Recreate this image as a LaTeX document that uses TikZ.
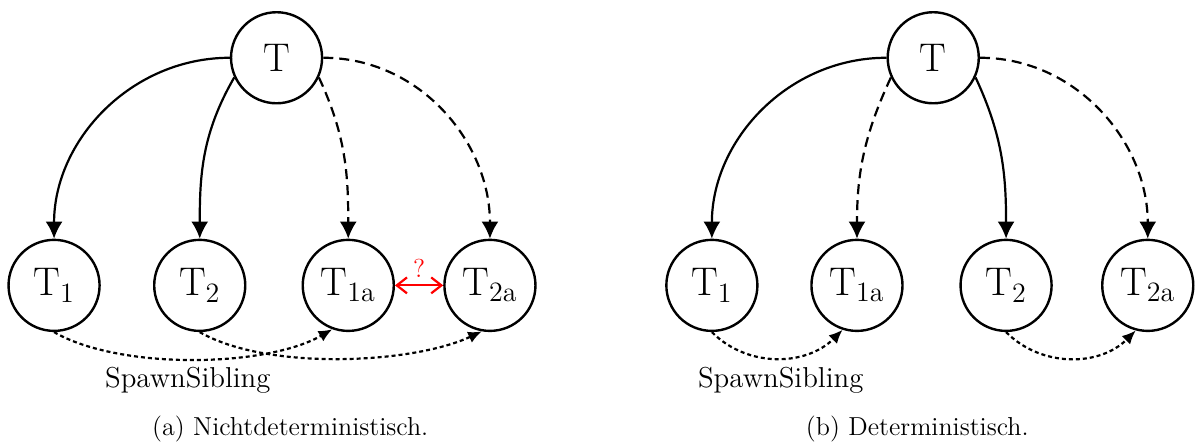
\documentclass[tikz,border=0pt]{standalone}
\usepackage{fontspec}
\usepackage{tikz}
\usetikzlibrary{arrows.meta}
\tikzset{
  task/.style={circle, draw=black, line width=1.2pt, minimum size=1.6cm, inner sep=0pt, font=\fontsize{20}{22}\selectfont},
  spawn/.style={-{Latex[length=3mm,width=3mm]}, line width=1.1pt},
  spawndash/.style={spawn, dash pattern=on 5pt off 3pt},
  sibling/.style={-{Latex[length=2.4mm,width=2.1mm]}, line width=1.1pt, dash pattern=on 2pt off 1.5pt},
  race/.style={{Straight Barb[length=1.8mm,width=2.8mm]}-{Straight Barb[length=1.8mm,width=2.8mm]}, line width=1.1pt, draw=red}
}

\begin{document}
\begin{tikzpicture}[
  lbl/.style={font=\fontsize{14.4}{16}\selectfont},
  subcap/.style={font=\fontsize{13}{15}\selectfont, anchor=base}
]
\useasboundingbox (0,0) rectangle (21.0,7.785);
% (a) nichtdeterministisch
\node[task] (nT) at (4.86,6.77) {T};
\node[task] (nT1) at (0.95,2.77) {T\textsubscript{1}};
\node[task] (nT2) at (3.51,2.77) {T\textsubscript{2}};
\node[task] (nT1a) at (6.12,2.77) {T\textsubscript{1a}};
\node[task] (nT2a) at (8.61,2.77) {T\textsubscript{2a}};
\draw[spawn] (nT.west) to[out=180,in=90] (nT1.north);
\draw[spawn] (nT.205) to[out=240,in=90] (nT2.north);
\draw[spawndash] (nT.-25) to[out=-65,in=90] (nT1a.north);
\draw[spawndash] (nT.east) to[out=0,in=90] (nT2a.north);
\draw[sibling] (nT1.south) to[out=-30,in=-150,looseness=0.7] (nT1a.-110);
\draw[sibling] (nT2.south) to[out=-30,in=-155,looseness=0.7] (nT2a.-100);
\draw[race] (nT1a) -- node[above, font=\fontsize{13}{15}\selectfont, text=red] (q) {?} (nT2a);
\node[lbl, anchor=base] (nlbl) at (3.30,0.98) {SpawnSibling};
\node[subcap] (ncap) at (5.10,0.14) {(a) Nichtdeterministisch.};
% (b) deterministisch
\node[task] (dT) at (16.40,6.77) {T};
\node[task] (dT1) at (12.51,2.77) {T\textsubscript{1}};
\node[task] (dT1a) at (15.06,2.77) {T\textsubscript{1a}};
\node[task] (dT2) at (17.68,2.77) {T\textsubscript{2}};
\node[task] (dT2a) at (20.17,2.77) {T\textsubscript{2a}};
\draw[spawn] (dT.west) to[out=180,in=90] (dT1.north);
\draw[spawndash] (dT.205) to[out=245,in=90] (dT1a.north);
\draw[spawn] (dT.-25) to[out=-65,in=90] (dT2.north);
\draw[spawndash] (dT.east) to[out=0,in=90] (dT2a.north);
\draw[sibling] (dT1.south) to[out=-45,in=-135] (dT1a.-108);
\draw[sibling] (dT2.south) to[out=-45,in=-135] (dT2a.-105);
\node[lbl, anchor=base] (dlbl) at (13.72,0.98) {SpawnSibling};
\node[subcap] (dcap) at (16.12,0.14) {(b) Deterministisch.};
\end{tikzpicture}
\end{document}
